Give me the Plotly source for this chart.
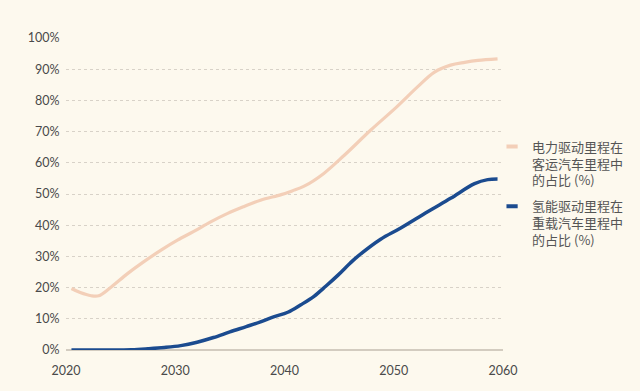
import plotly.graph_objects as go

# Electric share of passenger-car mileage (%)
ev_years = [2020.5, 2021.3, 2022.3, 2023.0, 2024.0, 2025.6, 2027.0, 2028.7, 2030.2, 2031.7,
            2033.2, 2034.8, 2036.3, 2037.8, 2039.7, 2040.7, 2041.8, 2043.6, 2045.5, 2047.9,
            2050.3, 2052.2, 2053.7, 2055.2, 2056.5, 2057.7, 2059.5]
ev_share = [19.7, 18.4, 17.4, 17.4, 19.8, 24.4, 28.0, 32.0, 35.2, 38.0,
            41.0, 43.8, 46.0, 48.0, 49.8, 51.0, 52.5, 56.6, 62.5, 70.5,
            78.0, 84.4, 89.0, 91.3, 92.2, 92.8, 93.3]

# Hydrogen share of heavy-truck mileage (%)
h2_years = [2020.5, 2022.0, 2024.0, 2026.0, 2027.5, 2029.0, 2030.5, 2032.0, 2033.5, 2035.0,
            2036.5, 2037.8, 2039.0, 2040.3, 2041.5, 2042.7, 2043.8, 2044.9, 2046.0, 2046.7,
            2048.8, 2050.6, 2053.1, 2055.2, 2057.4, 2058.6, 2059.5]
h2_share = [0.0, 0.0, 0.0, 0.1, 0.4, 0.8, 1.4, 2.5, 4.0, 5.8,
            7.5, 9.0, 10.6, 12.1, 14.5, 17.2, 20.5, 24.0, 27.8, 30.0,
            35.5, 39.0, 44.3, 48.6, 53.3, 54.6, 54.8]

x_ticks = [2020, 2030, 2040, 2050, 2060]
ev_name = "电力驱动里程在<br>客运汽车里程中<br>的占比 (%)"
h2_name = "氢能驱动里程在<br>重载汽车里程中<br>的占比 (%)"

pink = "#F3CFB8"
blue = "#1B4B8F"
bg = "#FDF9EE"

fig = go.Figure()
fig.add_trace(go.Scatter(x=ev_years, y=ev_share, mode="lines", line=dict(color=pink, width=3.2, shape="spline"),
                         showlegend=False, cliponaxis=False, hoverinfo="skip"))
fig.add_trace(go.Scatter(x=h2_years, y=h2_share, mode="lines", line=dict(color=blue, width=3.5, shape="spline"),
                         showlegend=False, cliponaxis=False, hoverinfo="skip"))
# legend entries
fig.add_trace(go.Scatter(x=[None], y=[None], mode="markers", name=ev_name, legendgroup="a",
                         marker=dict(symbol="line-ew", size=8, color=pink, line=dict(color=pink, width=4))))
fig.add_trace(go.Scatter(x=[None], y=[None], mode="markers", name=h2_name, legendgroup="b",
                         marker=dict(symbol="line-ew", size=8, color=blue, line=dict(color=blue, width=4))))

fig.update_layout(
    width=640, height=391,
    margin=dict(l=66, r=137, t=38, b=41, autoexpand=False),
    paper_bgcolor=bg, plot_bgcolor=bg,
    font=dict(family="Lato, Noto Sans CJK SC", size=12, color="#4a4a4a"),
    legend=dict(x=0.975, xanchor="left", y=0.70, yanchor="top", valign="top",
                font=dict(family="Noto Sans CJK SC", size=13, color="#555555"),
                tracegroupgap=6, bgcolor="rgba(0,0,0,0)"),
    xaxis=dict(range=[2020, 2060], tickvals=x_ticks, ticktext=[str(v) for v in x_ticks],
               showgrid=False, zeroline=False, showline=False,
               ticks="outside", ticklen=9, tickcolor="rgba(0,0,0,0)",
               tickfont=dict(family="Lato", size=12.5, color="#4a4a4a")),
    yaxis=dict(range=[0, 100], dtick=10, ticksuffix="%", showgrid=True, gridcolor="#D8D2C8",
               griddash="dot", gridwidth=1, zeroline=True, zerolinecolor="#D3CCC0", zerolinewidth=1.5,
               showline=False, ticks="outside", ticklen=3, tickcolor="rgba(0,0,0,0)",
               tickfont=dict(family="Lato", size=12.5, color="#4a4a4a")),
)

fig.write_html("out.html", config={"displayModeBar": False},
               post_script="document.body.style.margin='0';document.body.style.background='" + bg + "';")
